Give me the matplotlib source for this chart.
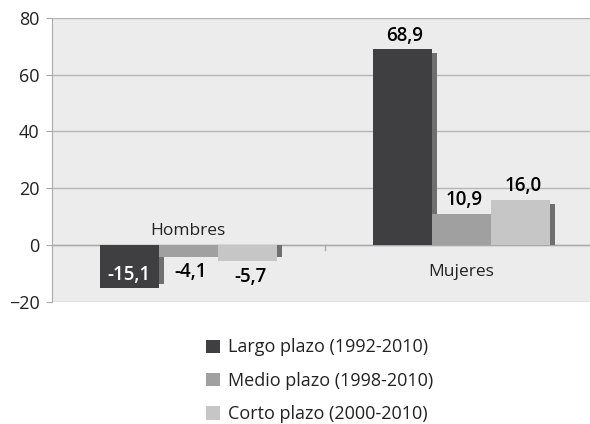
import matplotlib.pyplot as plt
import numpy as np

categorias = ['Hombres', 'Mujeres']
series = ['Largo plazo (1992-2010)', 'Medio plazo (1998-2010)', 'Corto plazo (2000-2010)']
largo = [-15.1, 68.9]
medio = [-4.1, 10.9]
corto = [-5.7, 16.0]
colores = ['#3f3f41', '#a0a0a0', '#c6c6c7']
etiquetas = [['-15,1', '68,9'], ['-4,1', '10,9'], ['-5,7', '16,0']]

plt.rcParams['font.family'] = ['Open Sans', 'DejaVu Sans']

fig = plt.figure(figsize=(5.9, 4.24), dpi=100)
ax = fig.add_axes([0.088, 0.288, 0.925, 0.67])
ax.set_facecolor('#ececec')

x = np.arange(len(categorias))
w = 0.216
offsets = [-w, 0, w]
valores = [largo, medio, corto]

# sombras primero
for i, vals in enumerate(valores):
    v = np.array(vals)
    sombra = v - np.sign(v) * 1.4
    ax.bar(x + offsets[i] + 0.018, sombra, w, color='#6f6f6f', zorder=2)
for i, vals in enumerate(valores):
    ax.bar(x + offsets[i], vals, w, color=colores[i], label=series[i], zorder=3)

# etiquetas de datos
for j in range(len(categorias)):
    for i, vals in enumerate(valores):
        v = vals[j]
        xi = x[j] + offsets[i]
        if i == 0 and v < 0:
            ax.text(xi, v + 1.0, etiquetas[i][j], ha='center', va='bottom',
                    color='white', fontsize=13.5, fontweight='semibold', zorder=5)
        elif v < 0:
            ax.text(xi + 0.01, v - 1.9, etiquetas[i][j], ha='center', va='top',
                    color='black', fontsize=13.5, fontweight='semibold', zorder=5)
        else:
            ax.text(xi + 0.01, v + 1.3, etiquetas[i][j], ha='center', va='bottom',
                    color='black', fontsize=13.5, fontweight='semibold', zorder=5)

# nombres de categoria
for j, c in enumerate(categorias):
    if largo[j] < 0:
        ax.text(x[j], 2.0, c, ha='center', va='bottom', fontsize=12.5, color='#222222')
    else:
        ax.text(x[j], -9.5, c, ha='center', va='center', fontsize=12.5, color='#222222')

ax.set_xlim(-0.5, 1.5)
ax.set_ylim(-20, 80)
ax.set_yticks([-20, 0, 20, 40, 60, 80])
ax.yaxis.grid(True, color='#b4b4b4', linewidth=1.0, zorder=1)
ax.set_axisbelow(True)
ax.axhline(0, color='#aaaaaa', linewidth=1.0, zorder=1)
ax.plot([0.5, 0.5], [0, -1.6], color='#aaaaaa', linewidth=1.0, zorder=1)
ax.set_xticks([])
for s in ['top', 'right', 'bottom']:
    ax.spines[s].set_visible(False)
ax.spines['left'].set_color('#aaaaaa')
ax.tick_params(axis='y', length=4, color='#aaaaaa', labelsize=13, labelcolor='#222222', pad=5)

fig.legend(loc='upper left', bbox_to_anchor=(0.322, 0.24), frameon=False,
           fontsize=13, handlelength=0.75, handleheight=0.75, handletextpad=0.45,
           labelspacing=0.85, labelcolor='#222222')

fig.savefig('out.png', dpi=100)
